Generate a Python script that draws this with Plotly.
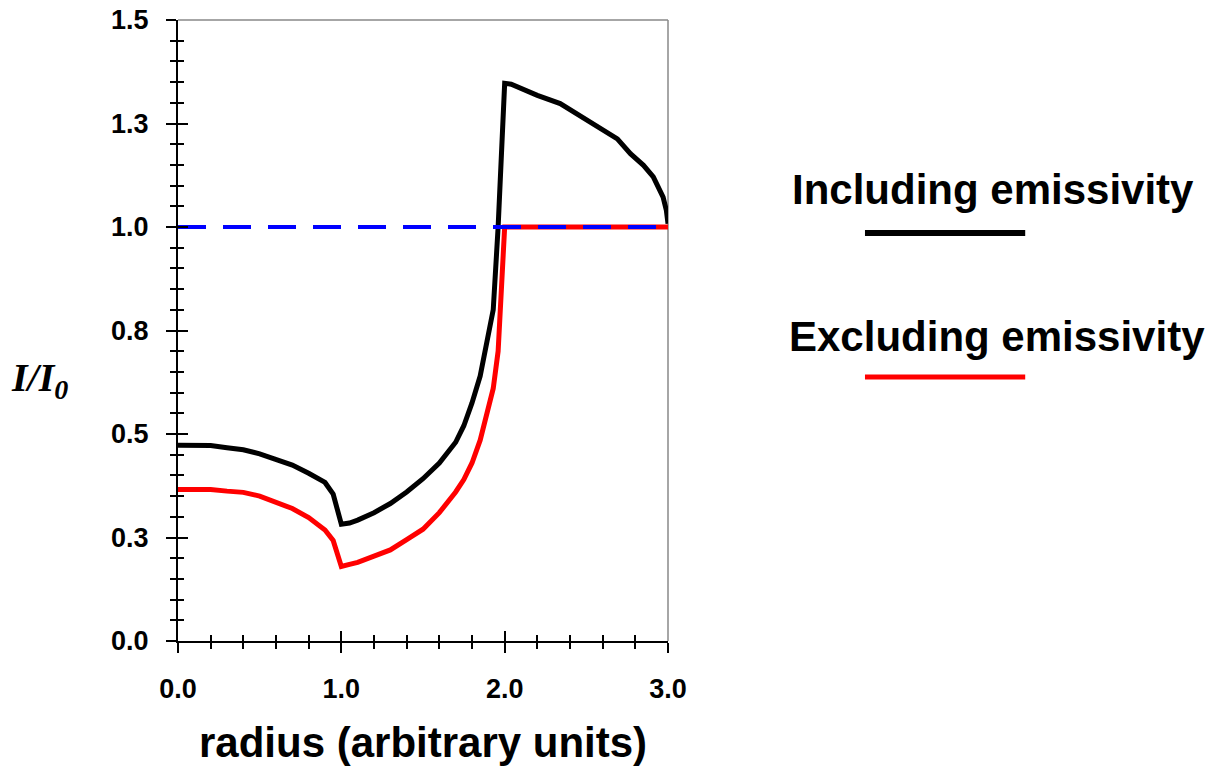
import plotly.graph_objects as go

# ---- data ----
radius_incl = [0.0, 0.1, 0.2, 0.3, 0.4, 0.5, 0.6, 0.7, 0.8, 0.9, 0.95, 1.0, 1.05, 1.1, 1.2, 1.3, 1.4, 1.5,
               1.6, 1.7, 1.75, 1.8, 1.85, 1.9, 1.93, 1.96, 2.0, 2.04, 2.1, 2.2, 2.34, 2.44, 2.58, 2.69,
               2.77, 2.85, 2.91, 2.97, 2.99, 3.0]
intensity_incl = [0.473, 0.473, 0.472, 0.467, 0.462, 0.452, 0.440, 0.425, 0.405, 0.383, 0.355, 0.282, 0.285,
                  0.292, 0.310, 0.332, 0.360, 0.392, 0.430, 0.480, 0.520, 0.575, 0.640, 0.740, 0.800, 1.000,
                  1.347, 1.345, 1.335, 1.318, 1.298, 1.274, 1.238, 1.213, 1.177, 1.149, 1.121, 1.072, 1.040, 1.008]

radius_excl = [0.0, 0.1, 0.2, 0.3, 0.4, 0.5, 0.6, 0.7, 0.8, 0.9, 0.95, 1.0, 1.05, 1.1, 1.2, 1.3, 1.4, 1.5,
               1.6, 1.7, 1.75, 1.8, 1.85, 1.9, 1.93, 1.96, 1.97, 1.98, 2.0, 2.5, 3.0]
intensity_excl = [0.366, 0.366, 0.366, 0.362, 0.359, 0.350, 0.336, 0.320, 0.298, 0.268, 0.243, 0.180, 0.185,
                  0.190, 0.205, 0.220, 0.245, 0.270, 0.310, 0.360, 0.390, 0.430, 0.485, 0.560, 0.610, 0.700,
                  0.780, 0.900, 1.000, 1.000, 1.000]

ref_x = [0.0, 3.0]
ref_y = [1.0, 1.0]

x_tickvals = [0, 1, 2, 3]
x_ticktext = ["0.0", "1.0", "2.0", "3.0"]
y_tickvals = [0, 0.25, 0.5, 0.75, 1.0, 1.25, 1.5]
y_ticktext = ["0.0", "0.3", "0.5", "0.8", "1.0", "1.3", "1.5"]

series_names = ["Including emissivity", "Excluding emissivity"]
x_title = "radius (arbitrary units)"
y_title = "<b><i>I/I<sub>0</sub></i></b>"

# ---- figure ----
FONT = "Arial, Liberation Sans, sans-serif"

fig = go.Figure()
fig.add_trace(go.Scatter(x=radius_incl, y=intensity_incl, mode="lines",
                         line=dict(color="black", width=5), name=series_names[0], showlegend=False))
fig.add_trace(go.Scatter(x=radius_excl, y=intensity_excl, mode="lines",
                         line=dict(color="#ff0000", width=5), name=series_names[1], showlegend=False))
fig.add_trace(go.Scatter(x=ref_x, y=ref_y, mode="lines", xaxis="x2", yaxis="y2",
                         line=dict(color="#0000ff", width=4, dash="28px,17px"), showlegend=False))

common_x = dict(range=[0, 3], showgrid=False, zeroline=False, automargin=False)
common_y = dict(range=[0, 1.5], showgrid=False, zeroline=False, automargin=False)

fig.update_layout(
    width=1220, height=773,
    margin=dict(l=178, r=552, t=20, b=132, autoexpand=False),
    paper_bgcolor="white", plot_bgcolor="white",
    xaxis=dict(**common_x, showline=True, linecolor="black", linewidth=2,
               tickmode="array", tickvals=x_tickvals, ticktext=x_ticktext,
               ticks="outside", ticklen=10, tickwidth=1.5, tickcolor="black",
               ticklabelstandoff=13,
               tickfont=dict(family=FONT, size=27, color="black", weight="bold"),
               minor=dict(ticks="outside", ticklen=6, tickwidth=1.5, tickcolor="black", dtick=0.2, tick0=0)),
    yaxis=dict(**common_y, showline=True, linecolor="black", linewidth=2,
               tickmode="array", tickvals=y_tickvals, ticktext=y_ticktext,
               ticks="outside", ticklen=10, tickwidth=1.5, tickcolor="black",
               ticklabelstandoff=12,
               tickfont=dict(family=FONT, size=27, color="black", weight="bold"),
               minor=dict(ticks="outside", ticklen=6, tickwidth=1.5, tickcolor="black", dtick=0.05, tick0=0)),
    xaxis2=dict(**common_x, overlaying="x", side="bottom", showline=False, showticklabels=False,
                tickmode="array", tickvals=x_tickvals,
                ticks="inside", ticklen=10, tickwidth=1.5, tickcolor="black",
                minor=dict(ticks="inside", ticklen=6, tickwidth=1.5, tickcolor="black", dtick=0.2, tick0=0)),
    yaxis2=dict(**common_y, overlaying="y", side="left", showline=False, showticklabels=False,
                tickmode="array", tickvals=y_tickvals,
                ticks="inside", ticklen=10, tickwidth=1.5, tickcolor="black",
                minor=dict(ticks="inside", ticklen=6, tickwidth=1.5, tickcolor="black", dtick=0.05, tick0=0)),
)

# frame (top and right) in gray
fig.add_shape(type="line", xref="paper", yref="paper", x0=0, x1=1, y0=1, y1=1,
              line=dict(color="#888888", width=1.5), layer="below")
fig.add_shape(type="line", xref="paper", yref="paper", x0=1, x1=1, y0=0, y1=1,
              line=dict(color="#888888", width=1.5), layer="below")

# axis titles
fig.add_annotation(text="<b>" + x_title + "</b>", xref="paper", yref="paper", x=0.5, y=-0.164,
                   xanchor="center", yanchor="middle", showarrow=False,
                   font=dict(family=FONT, size=42, color="black"))
fig.add_annotation(text=y_title, xref="paper", yref="paper", x=-0.282, y=0.42,
                   xanchor="center", yanchor="middle", showarrow=False,
                   font=dict(family="Times New Roman, Liberation Serif, serif", size=40, color="black"))

# legend (text + sample lines)
fig.add_annotation(text="<b>" + series_names[0] + "</b>", xref="paper", yref="paper", x=1.664, y=0.727,
                   xanchor="center", yanchor="middle", showarrow=False,
                   font=dict(family=FONT, size=42, color="black"))
fig.add_annotation(text="<b>" + series_names[1] + "</b>", xref="paper", yref="paper", x=1.672, y=0.491,
                   xanchor="center", yanchor="middle", showarrow=False,
                   font=dict(family=FONT, size=42, color="black"))
fig.add_shape(type="line", xref="paper", yref="paper", x0=1.402, x1=1.729, y0=0.657, y1=0.657,
              line=dict(color="black", width=6))
fig.add_shape(type="line", xref="paper", yref="paper", x0=1.402, x1=1.729, y0=0.425, y1=0.425,
              line=dict(color="#ff0000", width=5))

fig.write_html("out.html", config={"displayModeBar": False},
               post_script="document.body.style.margin='0';")
